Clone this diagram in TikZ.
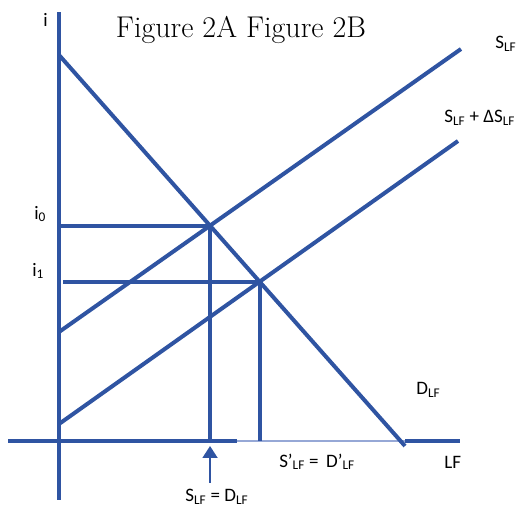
\documentclass[tikz,border=0pt]{standalone}
\usepackage{fontspec}
\newfontfamily\lblfont{Carlito}
\usetikzlibrary{arrows.meta,intersections,calc}
\definecolor{curveblue}{RGB}{47,84,162}
\definecolor{paleblue}{RGB}{150,168,214}
\tikzset{every picture/.style={line width=0.75pt}}

\begin{document}
\begin{tikzpicture}[x=1pt, y=1pt, >=Triangle,
    curve/.style={curveblue, line width=4pt},
    lbl/.style={font=\lblfont\fontsize{19}{21}\selectfont, inner sep=0pt, anchor=west}]
    \useasboundingbox (0,0) rectangle (524,510);

    % axes
    \coordinate (itop) at (59,498);
    \coordinate (ibot) at (59,10);
    \coordinate (lfl) at (8,69);
    \coordinate (gapl) at (237,69);
    \coordinate (gapr) at (405,69);
    \coordinate (lfr) at (460,69);
    \draw[curve] (ibot) -- (itop);
    \draw[curve] (lfl) -- (gapl);
    \draw[paleblue, line width=1.2pt] (gapl) -- (gapr);
    \draw[curve] (gapr) -- (lfr);

    % demand and the two supply curves
    \coordinate (dtop) at (59,455);
    \coordinate (dbot) at (405,64);
    \coordinate (sa) at (59,178);
    \coordinate (sb) at (461,461);
    \coordinate (ta) at (59,86);
    \coordinate (tb) at (458,369);
    \draw[curve, name path=dem] (dtop) -- (dbot);
    \draw[curve, name path=sup] (sa) -- (sb);
    \draw[curve, name path=supd] (ta) -- (tb);
    \path[name intersections={of=dem and sup, by=E0}];
    \path[name intersections={of=dem and supd, by=E1}];

    % rates and quantities
    \draw[curve] (E0 -| 57,0) -- (E0);
    \draw[curve] (E1 -| 63,0) -- (E1);
    \draw[curve] (E0) -- (E0 |- lfl);
    \draw[curve] (E1) -- (E1 |- lfl);

    % labels
    \node[lbl] (ilab) at (43,490) {i};
    \node[font=\fontsize{30}{32}\selectfont, inner sep=0pt] (title) at (241,480) {Figure 2A Figure 2B};
    \node[lbl] (slab) at (495,466) {S\textsubscript{LF}};
    \node[lbl] (sdlab) at (444,392) {S\textsubscript{LF} + ΔS\textsubscript{LF}};
    \node[lbl] (i0lab) at (34,296) {i\textsubscript{0}};
    \node[lbl] (i1lab) at (32,239) {i\textsubscript{1}};
    \node[lbl] (dlab) at (416,120) {D\textsubscript{LF}};
    \node[lbl] (eqlab) at (279,48) {S’\textsubscript{LF} =\, D’\textsubscript{LF}};
    \node[lbl] (lflab) at (444,48) {LF};
    \node[lbl] (oldlab) at (185,13) {S\textsubscript{LF} = D\textsubscript{LF}};

    % arrow to the old equilibrium
    \coordinate (arrtail) at (E0 |- 0,27);
    \coordinate (arrhead) at (E0 |- 0,64);
    \draw[curveblue, line width=1.8pt, -{Triangle[width=15pt,length=12pt]}] (arrtail) -- (arrhead);
\end{tikzpicture}
\end{document}
